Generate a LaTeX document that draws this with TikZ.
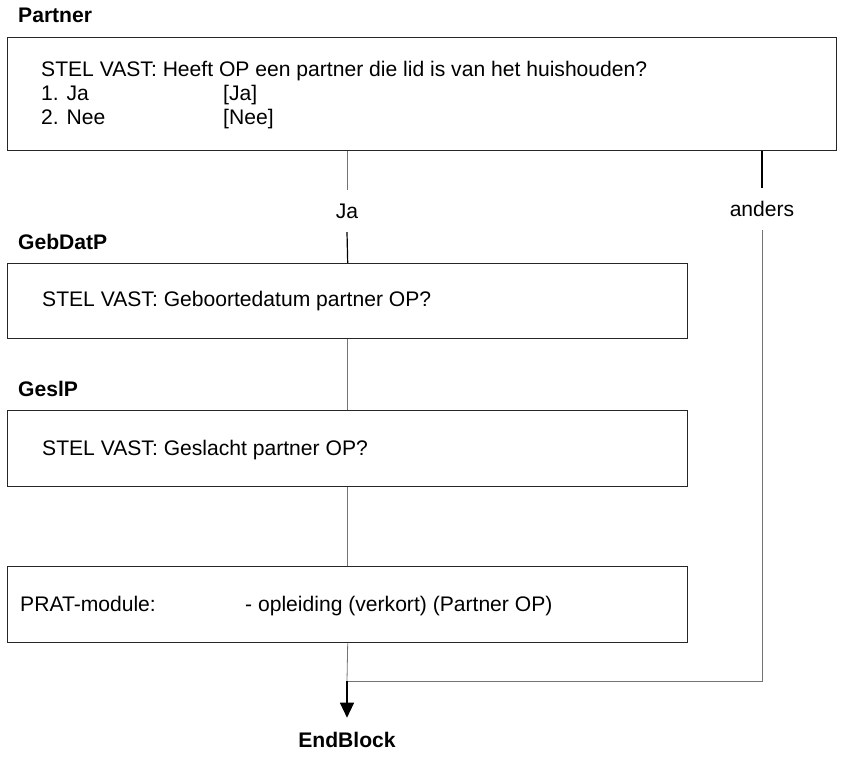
\documentclass[tikz,border=0pt]{standalone}
\usepackage{fontspec}
\setmainfont{Liberation Sans}
\usetikzlibrary{arrows.meta}

\begin{document}
\begin{tikzpicture}[x=1pt, y=-1pt,
        every node/.style={font=\fontsize{21.1}{25}\selectfont},
        qbox/.style={draw=black!85, line width=1.4pt, rectangle, anchor=north west, inner sep=0pt},
        txt/.style={anchor=base west, inner sep=0pt},
        hdr/.style={anchor=base west, inner sep=0pt, font=\fontsize{21.1}{25}\selectfont\bfseries},
        cond/.style={inner sep=0pt, minimum height=42pt},
        conn/.style={draw=black!55, line width=0.8pt},
        connk/.style={draw=black, line width=1.2pt}]
        \useasboundingbox (0,0) rectangle (843,762);

        % Partner
        \node [hdr] (partnerHdr) at (18,23) {Partner};
        \node [qbox, minimum width=829pt, minimum height=113pt] (partner) at (7,37) {};
        \node [txt] (partnerQ) at (41,77) {STEL VAST: Heeft OP een partner die lid is van het huishouden?};
        \node [txt] (partnerA1) at (41,101) {1. Ja};
        \node [txt] (partnerA1c) at (223,101) {[Ja]};
        \node [txt] (partnerA2) at (41,125) {2. Nee};
        \node [txt] (partnerA2c) at (223,125) {[Nee]};

        % conditions
        \node [cond] (jaLbl) at (347,211) {Ja};
        \node [cond] (andersLbl) at (762,209) {anders};

        % GebDatP
        \node [hdr] (gebdatpHdr) at (18,249) {GebDatP};
        \node [qbox, minimum width=680pt, minimum height=75pt] (gebdatp) at (7,263) {};
        \node [txt] (gebdatpQ) at (42,306) {STEL VAST: Geboortedatum partner OP?};

        % GeslP
        \node [hdr] (geslpHdr) at (18,396) {GeslP};
        \node [qbox, minimum width=680pt, minimum height=76pt] (geslp) at (7,410) {};
        \node [txt] (geslpQ) at (42,455) {STEL VAST: Geslacht partner OP?};

        % PRAT
        \node [qbox, minimum width=680pt, minimum height=76pt] (prat) at (7,566) {};
        \node [txt] (pratLbl) at (20,611) {PRAT-module:};
        \node [txt] (pratItem) at (245,611) {- opleiding (verkort) (Partner OP)};

        \node [hdr, anchor=base, outer ysep=14pt] (endLbl) at (347,747) {EndBlock};
        \coordinate (join) at (347,681);

        \draw [conn] (jaLbl.north |- partner.south) -- (jaLbl.north);
        \draw [connk] (jaLbl.south) -- (gebdatp.north);
        \draw [connk] (andersLbl.north |- partner.south) -- (andersLbl.north);
        \draw [conn] (andersLbl.south) -- (join -| andersLbl) -- (join);
        \draw [conn] (gebdatp.south) -- (geslp.north);
        \draw [conn] (geslp.south) -- (prat.north);
        \draw [conn] (prat.south) -- (join);
        \draw [connk, -{Triangle[width=14pt, length=15pt]}] (join) -- (endLbl.north);
    \end{tikzpicture}
\end{document}
